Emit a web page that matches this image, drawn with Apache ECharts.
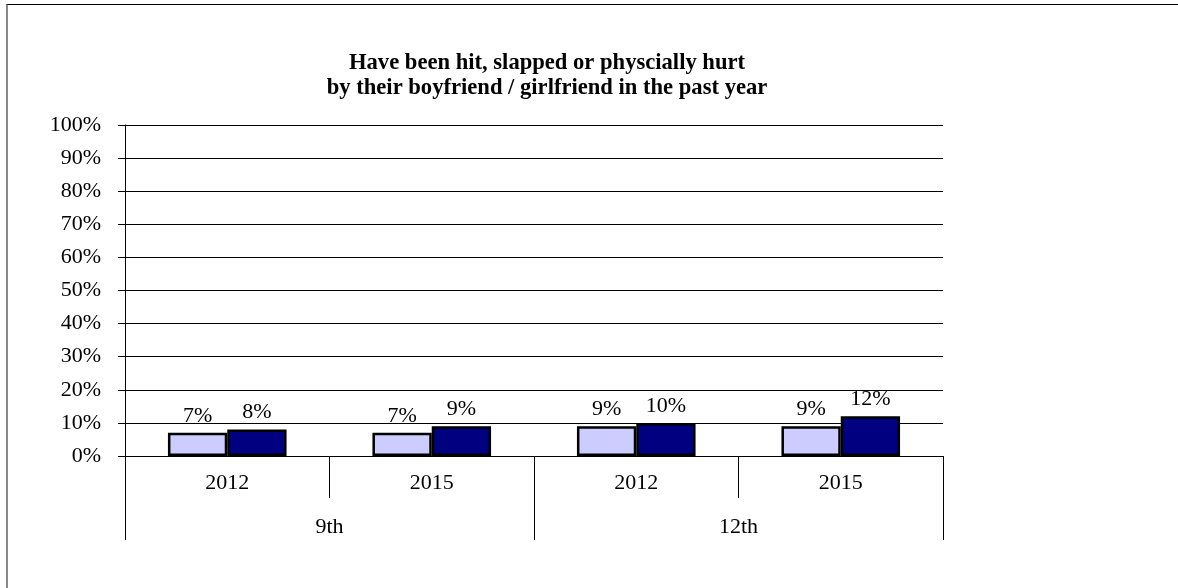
<!DOCTYPE html>
<html>
<head>
<meta charset="utf-8">
<script src="https://cdn.jsdelivr.net/npm/echarts@6/dist/echarts.min.js"></script>
<style>
  html, body { margin: 0; padding: 0; background: #fff; }
  #frame { position: absolute; left: 6px; top: 4px; width: 1200px; height: 600px;
           border-left: 2px solid #888; border-top: 1px solid #000; }
  #chart { position: absolute; left: 0; top: 0; width: 1178px; height: 588px; }
</style>
</head>
<body>
<div id="frame"></div>
<div id="chart"></div>
<script>
const titleLines = ['Have been hit, slapped or physcially hurt', 'by their boyfriend / girlfriend in the past year'];
const yearLabels = ['2012', '2015', '2012', '2015'];
const gradeLabels = ['9th', '12th'];
const seriesLight = [7, 7, 9, 9];
const seriesDark = [8, 9, 10, 12];
const yTicks = [0, 10, 20, 30, 40, 50, 60, 70, 80, 90, 100];

const font = 'Liberation Serif, Times New Roman, serif';
const chart = echarts.init(document.getElementById('chart'), null, { renderer: 'canvas' });

const labelCfg = {
  show: true, position: 'top', distance: 6,
  formatter: p => p.value + '%',
  color: '#000', fontFamily: font, fontSize: 22
};

chart.setOption({
  animation: false,
  backgroundColor: 'transparent',
  title: {
    text: titleLines.join('\n'),
    left: 542, top: 46, textAlign: 'center',
    textStyle: { fontFamily: font, fontSize: 22.6, fontWeight: 'bold', color: '#000', lineHeight: 25 }
  },
  grid: { left: 125, right: 235, top: 125, bottom: 132, containLabel: false },
  xAxis: [
    {
      type: 'category', data: yearLabels, position: 'bottom',
      axisLine: { show: true, lineStyle: { color: '#000', width: 1 } },
      axisTick: { show: true, interval: 0, length: 42, lineStyle: { color: '#000' } },
      axisLabel: { interval: 0, margin: 16, color: '#000', fontFamily: font, fontSize: 22 },
      splitLine: { show: false }
    },
    {
      type: 'category', data: gradeLabels, position: 'bottom',
      axisLine: { show: false },
      axisTick: { show: true, interval: 0, length: 84, lineStyle: { color: '#000' } },
      axisLabel: { interval: 0, margin: 60, color: '#000', fontFamily: font, fontSize: 22 },
      splitLine: { show: false }
    }
  ],
  yAxis: {
    type: 'value', min: yTicks[0], max: yTicks[yTicks.length - 1], interval: 10,
    axisLine: { show: true, lineStyle: { color: '#000', width: 1 } },
    axisTick: { show: true, length: 7, lineStyle: { color: '#000' } },
    axisLabel: { margin: 24, formatter: v => v + '%', color: '#000', fontFamily: font, fontSize: 22 },
    splitLine: { show: true, lineStyle: { color: '#000', width: 1 } }
  },
  series: [
    {
      type: 'bar', name: 'light', data: seriesLight, xAxisIndex: 0,
      barGap: '0%', barCategoryGap: '42%',
      itemStyle: { color: '#CCCCFF', borderColor: '#000', borderWidth: 2.5 },
      label: labelCfg
    },
    {
      type: 'bar', name: 'dark', data: seriesDark, xAxisIndex: 0,
      barGap: '0%', barCategoryGap: '42%',
      itemStyle: { color: '#000080', borderColor: '#000', borderWidth: 2.5 },
      label: labelCfg
    }
  ]
});
</script>
</body>
</html>
